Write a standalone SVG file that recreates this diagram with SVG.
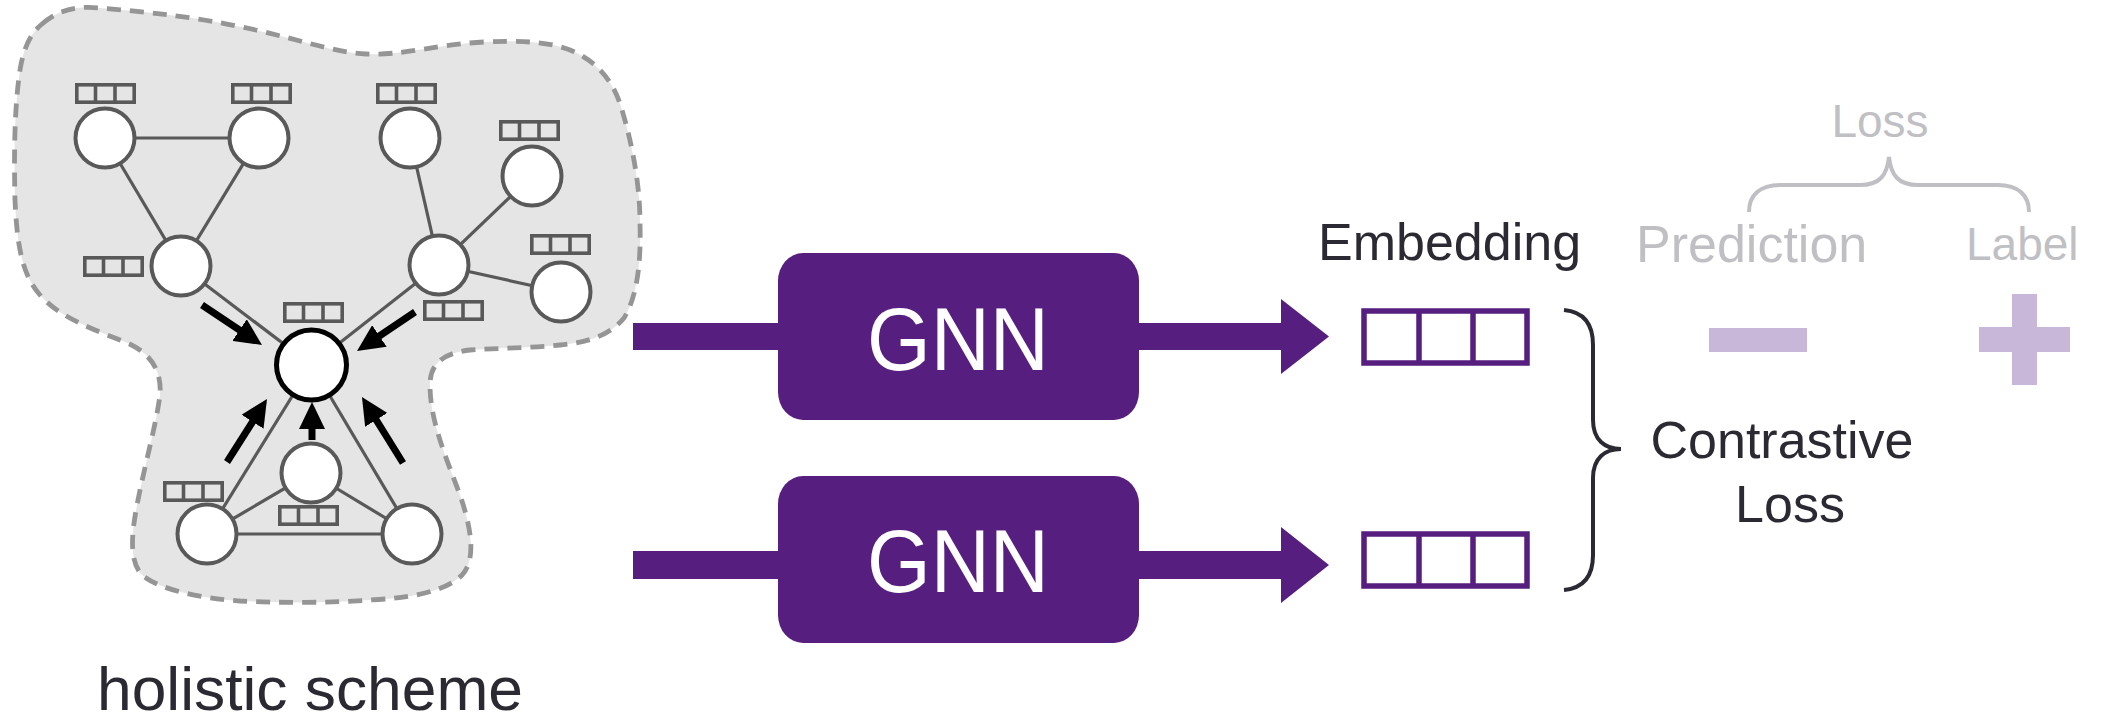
<svg xmlns="http://www.w3.org/2000/svg" xmlns:xlink="http://www.w3.org/1999/xlink" width="2105" height="723" viewBox="0 0 2105 723">
  <style>
    .edge { stroke: #595959; stroke-width: 3.2; fill: none; }
    .node { fill: #ffffff; stroke: #595959; stroke-width: 4; }
    .focus { fill: #ffffff; stroke: #000000; stroke-width: 5; }
    .vec rect, .vec line { fill: none; stroke: #595959; stroke-width: 3.6; }
    .flow { stroke: #000000; stroke-width: 7; marker-end: url(#head); }
    .gnn { fill: #561F7F; }
    .gnn-label { font-family: "Liberation Sans", Arial, sans-serif; font-size: 89px; fill: #ffffff; text-anchor: middle; }
    .emb rect, .emb line { fill: #ffffff; stroke: #561F7F; stroke-width: 5.5; }
    .dark { font-family: "Liberation Sans", Arial, sans-serif; fill: #2b2a33; }
    .grey { font-family: "Liberation Sans", Arial, sans-serif; fill: #c0c0c4; }
    .sign { fill: #c9b7da; }
  </style>
  <defs>
    <marker id="head" markerUnits="userSpaceOnUse" viewBox="0 0 27 26" markerWidth="27" markerHeight="26" refX="18" refY="13" orient="auto">
      <path d="M0,0 L27,13 L0,26 Z" fill="#000000"/>
    </marker>
    <g id="vec" class="vec">
      <rect x="1.8" y="1.8" width="57.4" height="17.4"/>
      <line x1="20.5" y1="1.8" x2="20.5" y2="19.2"/>
      <line x1="40" y1="1.8" x2="40" y2="19.2"/>
    </g>
    <g id="embvec" class="emb">
      <rect x="0" y="0" width="163" height="52"/>
      <line x1="55" y1="0" x2="55" y2="52"/>
      <line x1="109" y1="0" x2="109" y2="52"/>
    </g>
  </defs>

  <!-- graph region -->
  <g id="region">
    <path d="M 42,24 C 60,8 80,6 100,8 C 150,12 200,18 236,26 C 290,36 330,52 366,54 C 400,56 440,44 484,42 C 520,40 550,42 570,50 C 600,62 615,85 622,110 C 634,150 640,190 640,223 C 641,260 638,295 624,318 C 610,335 590,342 560,345 C 530,348 500,348 470,350 C 445,353 430,362 430,385 C 430,420 445,455 460,495 C 472,530 476,560 462,575 C 445,592 410,598 370,600 C 330,603 280,603 240,601 C 200,598 160,590 142,575 C 128,560 132,530 138,500 C 146,460 156,425 160,395 C 162,370 150,352 125,342 C 95,330 60,318 40,295 C 22,275 17,245 15,200 C 14,160 14,110 20,70 C 24,45 32,32 42,24 Z" fill="#e5e5e5" stroke="#959595" stroke-width="4.8" stroke-dasharray="14 9"/>
  </g>

  <!-- graph edges and aggregation arrows -->
  <g id="connectors">
    <line class="edge" x1="105" y1="138" x2="259" y2="138"/>
    <line class="edge" x1="105" y1="138" x2="181" y2="266"/>
    <line class="edge" x1="259" y1="138" x2="181" y2="266"/>
    <line class="edge" x1="181" y1="266" x2="311.5" y2="365"/>
    <line class="edge" x1="410" y1="138" x2="439" y2="265"/>
    <line class="edge" x1="532" y1="176" x2="439" y2="265"/>
    <line class="edge" x1="439" y1="265" x2="561" y2="292"/>
    <line class="edge" x1="439" y1="265" x2="311.5" y2="365"/>
    <line class="edge" x1="311.5" y1="365" x2="207" y2="534"/>
    <line class="edge" x1="311.5" y1="365" x2="412" y2="534"/>
    <line class="edge" x1="311" y1="473" x2="207" y2="534"/>
    <line class="edge" x1="311" y1="473" x2="412" y2="534"/>
    <line class="edge" x1="207" y1="534" x2="412" y2="534"/>
    <line class="flow" x1="202" y1="305" x2="254.5" y2="340"/>
    <line class="flow" x1="415" y1="312" x2="364.5" y2="346"/>
    <line class="flow" x1="227" y1="462" x2="262.2" y2="406.6"/>
    <line class="flow" x1="403" y1="463" x2="366.7" y2="404.6"/>
    <line class="flow" x1="312" y1="440" x2="312" y2="411"/>
  </g>

  <!-- graph nodes with feature vectors -->
  <g id="node-a"><circle class="node" cx="105" cy="138" r="29.5"/><use xlink:href="#vec" x="75" y="83"/></g>
  <g id="node-b"><circle class="node" cx="259" cy="138" r="29.5"/><use xlink:href="#vec" x="231" y="83"/></g>
  <g id="node-c"><circle class="node" cx="410" cy="138" r="29.5"/><use xlink:href="#vec" x="376" y="83"/></g>
  <g id="node-d"><circle class="node" cx="532" cy="176" r="29.5"/><use xlink:href="#vec" x="499" y="120"/></g>
  <g id="node-e"><circle class="node" cx="181" cy="266" r="29.5"/><use xlink:href="#vec" x="83" y="256"/></g>
  <g id="node-f"><circle class="node" cx="439" cy="265" r="29.5"/><use xlink:href="#vec" x="423" y="300"/></g>
  <g id="node-g"><circle class="node" cx="561" cy="292" r="29.5"/><use xlink:href="#vec" x="530" y="234"/></g>
  <g id="node-center"><circle class="focus" cx="311.5" cy="365" r="35"/><use xlink:href="#vec" x="283" y="302"/></g>
  <g id="node-h"><circle class="node" cx="311" cy="473" r="29.5"/><use xlink:href="#vec" x="278" y="505"/></g>
  <g id="node-i"><circle class="node" cx="207" cy="534" r="29.5"/><use xlink:href="#vec" x="163" y="481"/></g>
  <g id="node-j"><circle class="node" cx="412" cy="534" r="29.5"/></g>

  <g id="caption">
    <text class="dark" x="97" y="710" font-size="62" textLength="426" lengthAdjust="spacingAndGlyphs">holistic scheme</text>
  </g>

  <!-- encoder pipelines -->
  <g id="pipes">
    <rect class="gnn" x="633" y="323" width="150" height="27"/>
    <polygon class="gnn" points="1135,323 1281,323 1281,299 1329,336.5 1281,374 1281,350 1135,350"/>
    <rect class="gnn" x="633" y="551" width="150" height="28"/>
    <polygon class="gnn" points="1135,551 1281,551 1281,527 1329,565 1281,603 1281,579 1135,579"/>
  </g>
  <g id="gnn-1">
    <rect class="gnn" x="778" y="253" width="361" height="167" rx="25" ry="28"/>
    <text class="gnn-label" x="958" y="370" textLength="182" lengthAdjust="spacingAndGlyphs">GNN</text>
  </g>
  <g id="gnn-2">
    <rect class="gnn" x="778" y="476" width="361" height="167" rx="25" ry="28"/>
    <text class="gnn-label" x="958" y="592" textLength="182" lengthAdjust="spacingAndGlyphs">GNN</text>
  </g>

  <!-- embeddings -->
  <g id="embedding-1"><use xlink:href="#embvec" x="1364" y="311"/></g>
  <g id="embedding-2"><use xlink:href="#embvec" x="1364" y="534"/></g>
  <text class="dark" x="1318" y="260" font-size="52">Embedding</text>

  <!-- contrastive loss -->
  <g id="contrastive-loss">
    <path d="M 1564,310 C 1585,312 1593,325 1593,345 L 1593,420 C 1593,440 1605,449 1621,449 C 1605,449 1593,458 1593,478 L 1593,555 C 1593,575 1585,588 1564,590" fill="none" stroke="#2b2a33" stroke-width="4"/>
    <text class="dark" x="1782" y="458" font-size="52" text-anchor="middle">Contrastive</text>
    <text class="dark" x="1790" y="522" font-size="52" text-anchor="middle">Loss</text>
  </g>

  <!-- supervised loss (faded) -->
  <g id="supervised-loss">
    <path d="M 1749,212 C 1749,195 1760,185 1780,185 L 1860,185 C 1880,185 1887,175 1889,157 C 1891,175 1898,185 1918,185 L 1998,185 C 2018,185 2029,195 2029,212" fill="none" stroke="#c0c0c4" stroke-width="4"/>
    <text class="grey" x="1880" y="137" font-size="46" text-anchor="middle">Loss</text>
    <text class="grey" x="1636" y="262" font-size="52">Prediction</text>
    <text class="grey" x="1966" y="260" font-size="46">Label</text>
    <rect class="sign" x="1709" y="328" width="98" height="24"/>
    <rect class="sign" x="1979" y="327" width="91" height="25"/>
    <rect class="sign" x="2012" y="294" width="25" height="91"/>
  </g>
</svg>
